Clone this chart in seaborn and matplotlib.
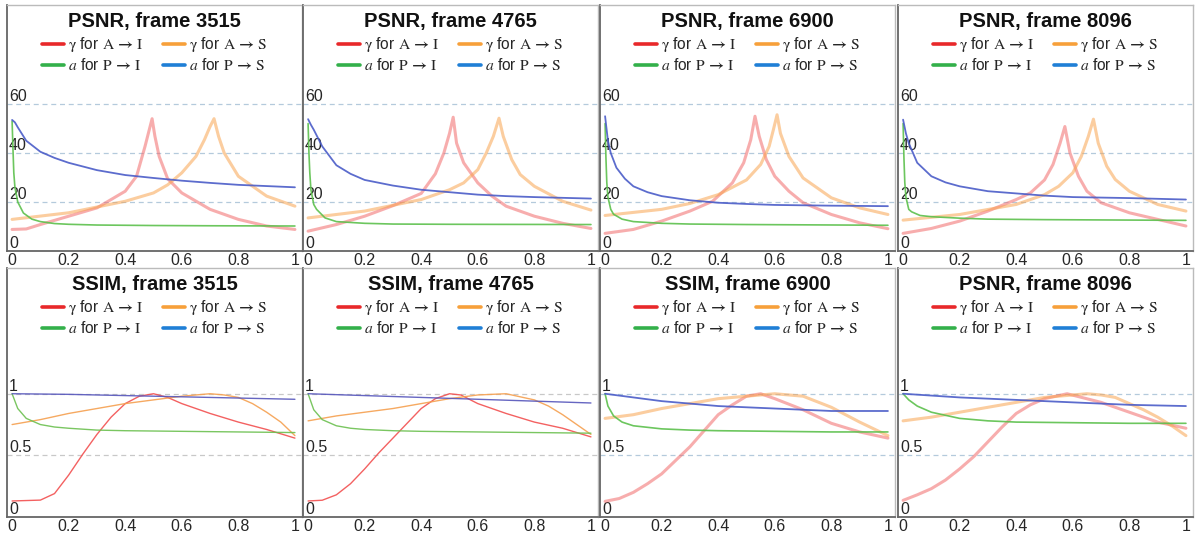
import pandas as pd
import seaborn as sns
import matplotlib.pyplot as plt
from matplotlib.lines import Line2D

# ---- PSNR, frame 3515 ----
p3515_red_x = [0, 0.05, 0.1, 0.2, 0.3, 0.4, 0.44, 0.47, 0.485, 0.495, 0.505, 0.52, 0.55, 0.6, 0.7, 0.8, 0.9, 1.0]
p3515_red_y = [8.8, 9.0, 10.8, 14.2, 17.6, 24.4, 30.5, 42.7, 49.5, 54.0, 46.8, 38.6, 29.5, 23.7, 17.0, 12.9, 10.2, 8.8]
p3515_org_x = [0, 0.2, 0.4, 0.5, 0.55, 0.6, 0.65, 0.68, 0.7, 0.714, 0.73, 0.75, 0.8, 0.9, 1.0]
p3515_org_y = [12.9, 15.6, 20.3, 23.7, 27.0, 31.9, 38.6, 45.4, 50.8, 54.0, 46.8, 40.0, 30.5, 22.4, 18.3]
p3515_grn_x = [0, 0.003, 0.006, 0.01, 0.02, 0.04, 0.07, 0.1, 0.15, 0.2, 0.3, 0.5, 0.7, 1.0]
p3515_grn_y = [53, 42, 32, 26, 20, 15.5, 13, 12, 11.2, 10.9, 10.6, 10.4, 10.3, 10.2]
p3515_blu_x = [0, 0.01, 0.02, 0.05, 0.1, 0.15, 0.2, 0.3, 0.4, 0.5, 0.6, 0.7, 0.8, 0.9, 1.0]
p3515_blu_y = [53.5, 52.5, 50.5, 45, 40.5, 38, 36, 33, 31, 29.8, 28.7, 27.8, 27, 26.5, 26]

# ---- PSNR, frame 4765 ----
p4765_red_x = [0, 0.1, 0.2, 0.3, 0.4, 0.45, 0.48, 0.5, 0.513, 0.525, 0.55, 0.6, 0.65, 0.7, 0.8, 0.9, 1.0]
p4765_red_y = [8.1, 10.8, 14.2, 18.5, 23.5, 31.5, 40, 48, 54.6, 44, 36, 27.8, 22.4, 18.3, 14.2, 11.3, 9.2]
p4765_org_x = [0, 0.2, 0.4, 0.5, 0.55, 0.6, 0.63, 0.655, 0.675, 0.69, 0.72, 0.75, 0.8, 0.9, 1.0]
p4765_org_y = [13.5, 16.3, 21, 25, 27.8, 33.2, 40, 46.8, 54.2, 46.8, 37.3, 31.2, 26.4, 20.3, 16.7]
p4765_grn_x = [0, 0.003, 0.006, 0.01, 0.02, 0.03, 0.06, 0.1, 0.2, 0.3, 0.5, 1.0]
p4765_grn_y = [52, 40, 32, 25, 19, 17, 13.5, 12, 11.3, 11, 10.9, 10.8]
p4765_blu_x = [0, 0.01, 0.02, 0.05, 0.1, 0.15, 0.2, 0.3, 0.4, 0.5, 0.6, 0.7, 0.8, 0.9, 1.0]
p4765_blu_y = [53.8, 51.5, 49.5, 42.7, 35, 31.5, 29, 26.7, 25, 24, 23, 22.4, 22, 21.7, 21.4]

# ---- PSNR, frame 6900 ----
p6900_red_x = [0, 0.1, 0.2, 0.3, 0.38, 0.45, 0.49, 0.515, 0.53, 0.545, 0.57, 0.6, 0.65, 0.7, 0.8, 0.9, 1.0]
p6900_red_y = [7.2, 8.8, 12.2, 16.3, 20.3, 27.8, 36, 45.4, 55, 46.8, 37.3, 30.5, 24.4, 19.7, 14.9, 11.5, 9.1]
p6900_org_x = [0, 0.2, 0.3, 0.4, 0.5, 0.55, 0.58, 0.595, 0.608, 0.62, 0.65, 0.7, 0.8, 0.9, 1.0]
p6900_org_y = [14.5, 17, 19.4, 23, 29, 35.3, 42.7, 49.5, 55.6, 48, 38.6, 29.8, 21.7, 17.6, 14.9]
p6900_grn_x = [0, 0.003, 0.006, 0.01, 0.02, 0.03, 0.06, 0.1, 0.2, 0.3, 0.5, 1.0]
p6900_grn_y = [52, 38, 28, 22, 17, 15, 13, 12, 11.3, 11, 10.8, 10.5]
p6900_blu_x = [0, 0.005, 0.01, 0.02, 0.04, 0.07, 0.1, 0.15, 0.2, 0.3, 0.4, 0.5, 0.6, 0.8, 1.0]
p6900_blu_y = [55, 50, 45, 40, 34, 29.5, 26.4, 24, 22.4, 20.7, 19.7, 19.2, 18.8, 18.5, 18.3]

# ---- PSNR, frame 8096 ----
p8096_red_x = [0, 0.1, 0.2, 0.3, 0.4, 0.45, 0.5, 0.53, 0.555, 0.572, 0.59, 0.62, 0.65, 0.7, 0.8, 0.9, 1.0]
p8096_red_y = [7.2, 9.2, 12.2, 16.3, 21, 23.7, 29, 35.3, 44, 50.8, 40, 30.5, 24.4, 19.7, 15.6, 12.9, 10.2]
p8096_org_x = [0, 0.2, 0.4, 0.5, 0.55, 0.6, 0.63, 0.655, 0.673, 0.69, 0.72, 0.75, 0.8, 0.9, 1.0]
p8096_org_y = [12.6, 14.9, 19, 23, 26.4, 31.9, 38.6, 46.8, 53.8, 44, 34.6, 29.2, 24.4, 19, 16.3]
p8096_grn_x = [0, 0.003, 0.006, 0.01, 0.02, 0.03, 0.06, 0.1, 0.2, 0.3, 0.5, 1.0]
p8096_grn_y = [52, 38, 28, 22, 17, 16, 14.5, 14, 13.4, 13, 12.8, 12.5]
p8096_blu_x = [0, 0.01, 0.02, 0.05, 0.1, 0.15, 0.2, 0.3, 0.4, 0.5, 0.6, 0.8, 1.0]
p8096_blu_y = [53.6, 48, 44, 36, 30.5, 28, 26.4, 24.4, 23.5, 22.6, 22, 21.6, 21]

# ---- SSIM, frame 3515 ----
s3515_red_x = [0, 0.1, 0.15, 0.2, 0.25, 0.3, 0.35, 0.4, 0.45, 0.5, 0.55, 0.6, 0.7, 0.8, 0.9, 1.0]
s3515_red_y = [0.13, 0.137, 0.19, 0.34, 0.51, 0.67, 0.81, 0.92, 0.98, 1.0, 0.97, 0.92, 0.84, 0.77, 0.71, 0.64]
s3515_org_x = [0, 0.1, 0.2, 0.3, 0.4, 0.5, 0.6, 0.7, 0.75, 0.8, 0.85, 0.9, 0.95, 1.0]
s3515_org_y = [0.75, 0.79, 0.84, 0.88, 0.92, 0.95, 0.98, 1.0, 0.99, 0.97, 0.92, 0.85, 0.77, 0.66]
s3515_grn_x = [0, 0.02, 0.05, 0.1, 0.15, 0.2, 0.3, 0.4, 0.6, 0.8, 1.0]
s3515_grn_y = [1.0, 0.88, 0.8, 0.75, 0.73, 0.72, 0.705, 0.70, 0.695, 0.69, 0.685]
s3515_blu_x = [0, 0.2, 0.4, 0.6, 0.8, 1.0]
s3515_blu_y = [1.0, 0.995, 0.985, 0.975, 0.965, 0.955]

# ---- SSIM, frame 4765 ----
s4765_red_x = [0, 0.05, 0.1, 0.15, 0.2, 0.25, 0.3, 0.35, 0.4, 0.45, 0.5, 0.54, 0.6, 0.7, 0.8, 0.9, 1.0]
s4765_red_y = [0.13, 0.136, 0.18, 0.27, 0.39, 0.52, 0.64, 0.76, 0.88, 0.96, 1.0, 0.99, 0.92, 0.84, 0.77, 0.72, 0.65]
s4765_org_x = [0, 0.1, 0.2, 0.3, 0.4, 0.5, 0.6, 0.7, 0.8, 0.85, 0.9, 0.95, 1.0]
s4765_org_y = [0.78, 0.82, 0.85, 0.88, 0.92, 0.96, 0.99, 1.0, 0.95, 0.90, 0.83, 0.75, 0.67]
s4765_grn_x = [0, 0.02, 0.05, 0.1, 0.15, 0.2, 0.3, 0.4, 0.6, 0.8, 1.0]
s4765_grn_y = [1.0, 0.87, 0.79, 0.74, 0.72, 0.71, 0.70, 0.695, 0.69, 0.685, 0.68]
s4765_blu_x = [0, 0.2, 0.4, 0.6, 0.8, 1.0]
s4765_blu_y = [1.0, 0.985, 0.97, 0.955, 0.94, 0.925]

# ---- SSIM, frame 6900 ----
s6900_red_x = [0, 0.05, 0.1, 0.15, 0.2, 0.25, 0.3, 0.35, 0.4, 0.45, 0.5, 0.55, 0.6, 0.7, 0.8, 0.9, 1.0]
s6900_red_y = [0.127, 0.15, 0.2, 0.27, 0.35, 0.46, 0.57, 0.70, 0.83, 0.91, 0.98, 1.0, 0.96, 0.87, 0.76, 0.69, 0.64]
s6900_org_x = [0, 0.1, 0.2, 0.3, 0.4, 0.5, 0.6, 0.7, 0.8, 0.9, 1.0]
s6900_org_y = [0.80, 0.83, 0.88, 0.92, 0.96, 0.98, 1.0, 0.98, 0.89, 0.77, 0.66]
s6900_grn_x = [0, 0.01, 0.03, 0.06, 0.1, 0.2, 0.3, 0.4, 0.6, 0.8, 1.0]
s6900_grn_y = [1.0, 0.9, 0.82, 0.77, 0.74, 0.715, 0.705, 0.70, 0.695, 0.69, 0.69]
s6900_blu_x = [0, 0.1, 0.2, 0.3, 0.4, 0.5, 0.6, 0.7, 0.8, 1.0]
s6900_blu_y = [1.0, 0.97, 0.94, 0.92, 0.90, 0.89, 0.88, 0.87, 0.86, 0.86]

# ---- bottom-right panel (titled "PSNR, frame 8096" in the source) ----
s8096_red_x = [0, 0.05, 0.1, 0.15, 0.2, 0.25, 0.3, 0.35, 0.4, 0.45, 0.5, 0.58, 0.7, 0.8, 0.9, 1.0]
s8096_red_y = [0.135, 0.18, 0.23, 0.30, 0.39, 0.49, 0.61, 0.73, 0.84, 0.91, 0.96, 1.0, 0.93, 0.85, 0.77, 0.72]
s8096_org_x = [0, 0.1, 0.2, 0.3, 0.4, 0.5, 0.6, 0.65, 0.7, 0.75, 0.8, 0.85, 0.9, 0.95, 1.0]
s8096_org_y = [0.78, 0.81, 0.85, 0.89, 0.93, 0.97, 0.99, 1.0, 0.99, 0.97, 0.92, 0.87, 0.81, 0.74, 0.66]
s8096_grn_x = [0, 0.02, 0.05, 0.1, 0.2, 0.3, 0.4, 0.6, 0.8, 1.0]
s8096_grn_y = [1.0, 0.95, 0.90, 0.85, 0.80, 0.78, 0.77, 0.765, 0.76, 0.76]
s8096_blu_x = [0, 0.2, 0.4, 0.6, 0.8, 1.0]
s8096_blu_y = [1.0, 0.97, 0.95, 0.93, 0.91, 0.90]

titles = ["PSNR, frame 3515", "PSNR, frame 4765", "PSNR, frame 6900", "PSNR, frame 8096",
          "SSIM, frame 3515", "SSIM, frame 4765", "SSIM, frame 6900", "PSNR, frame 8096"]
series_labels = [r"$\mathrm{\gamma}$ for $\mathrm{A}\,\mathbf{\rightarrow}\,\mathrm{I}$",
                 r"$\mathrm{\gamma}$ for $\mathrm{A}\,\mathbf{\rightarrow}\,\mathrm{S}$",
                 r"$a$ for $\mathrm{P}\,\mathbf{\rightarrow}\,\mathrm{I}$",
                 r"$a$ for $\mathrm{P}\,\mathbf{\rightarrow}\,\mathrm{S}$"]
psnr_ticks = [0, 20, 40, 60]
ssim_ticks = [0, 0.5, 1]
x_ticks = [0, 0.2, 0.4, 0.6, 0.8, 1]

panels = [
    [(p3515_red_x, p3515_red_y), (p3515_org_x, p3515_org_y), (p3515_grn_x, p3515_grn_y), (p3515_blu_x, p3515_blu_y)],
    [(p4765_red_x, p4765_red_y), (p4765_org_x, p4765_org_y), (p4765_grn_x, p4765_grn_y), (p4765_blu_x, p4765_blu_y)],
    [(p6900_red_x, p6900_red_y), (p6900_org_x, p6900_org_y), (p6900_grn_x, p6900_grn_y), (p6900_blu_x, p6900_blu_y)],
    [(p8096_red_x, p8096_red_y), (p8096_org_x, p8096_org_y), (p8096_grn_x, p8096_grn_y), (p8096_blu_x, p8096_blu_y)],
    [(s3515_red_x, s3515_red_y), (s3515_org_x, s3515_org_y), (s3515_grn_x, s3515_grn_y), (s3515_blu_x, s3515_blu_y)],
    [(s4765_red_x, s4765_red_y), (s4765_org_x, s4765_org_y), (s4765_grn_x, s4765_grn_y), (s4765_blu_x, s4765_blu_y)],
    [(s6900_red_x, s6900_red_y), (s6900_org_x, s6900_org_y), (s6900_grn_x, s6900_grn_y), (s6900_blu_x, s6900_blu_y)],
    [(s8096_red_x, s8096_red_y), (s8096_org_x, s8096_org_y), (s8096_grn_x, s8096_grn_y), (s8096_blu_x, s8096_blu_y)],
]

sns.set_theme(style="white")
plt.rcParams["font.family"] = ["Liberation Sans", "DejaVu Sans"]
plt.rcParams["mathtext.fontset"] = "stix"

legend_colors = ["#e8282a", "#f7a03a", "#33b04a", "#1f7fd6"]
# faded thick look (most panels) vs thin crisp look (SSIM 3515 / 4765)
faded_style = [dict(color="#f26b6b", lw=2.2, alpha=0.55), dict(color="#f9a450", lw=2.2, alpha=0.55),
               dict(color="#5cc04c", lw=1.2, alpha=0.9), dict(color="#4a5cc8", lw=1.3, alpha=0.9)]
thin_style = [dict(color="#f25050", lw=1.0, alpha=0.9), dict(color="#f5a050", lw=1.0, alpha=0.9),
              dict(color="#6cc050", lw=1.0, alpha=0.9), dict(color="#5555bb", lw=1.0, alpha=0.9)]

W, H = 1196, 533
fig = plt.figure(figsize=(W / 100, H / 100), dpi=100)
lefts = [7, 303, 600, 898]
width = 295

# legend fills column by column: put red, green in col 1 and orange, blue in col 2
leg_order = [0, 2, 1, 3]

for i, series in enumerate(panels):
    row, col = divmod(i, 4)
    if row == 0:
        top, bottom = 5, 251
    else:
        top, bottom = 268, 517
    ax = fig.add_axes([lefts[col] / W, 1 - bottom / H, width / W, (bottom - top) / H])
    styles = thin_style if i in (4, 5) else faded_style
    for (xs, ys), st in zip(series, styles):
        df = pd.DataFrame({"x": xs, "y": ys})
        sns.lineplot(data=df, x="x", y="y", ax=ax, estimator=None, sort=True,
                     color=st["color"], linewidth=st["lw"], alpha=st["alpha"])
    ax.set_xlim(-0.018, 1.025)
    if row == 0:
        ax.set_ylim(0, 100.4)
        ax.set_yticks(psnr_ticks)
        ax.set_yticklabels([str(t) for t in psnr_ticks])
    else:
        ax.set_ylim(0, 2.02)
        ax.set_yticks(ssim_ticks)
        ax.set_yticklabels(["0", "0.5", "1"])
    ax.set_xticks(x_ticks)
    ax.set_xticklabels(["0", "0.2", "0.4", "0.6", "0.8", "1"])
    ax.set_xlabel("")
    ax.set_ylabel("")
    grid_col = "#c8c8c8" if i in (4, 5) else "#b4cadc"
    ax.grid(axis="y", linestyle=(0, (4, 3)), color=grid_col, linewidth=0.9)
    ax.grid(axis="x", visible=False)
    ax.tick_params(axis="x", direction="in", length=3, color="#a8c4dc", labelsize=11.5, pad=1.5)
    ax.tick_params(axis="y", length=0, labelsize=11.5, pad=-1.5)
    for lbl in ax.get_yticklabels():
        lbl.set_horizontalalignment("left")
        lbl.set_verticalalignment("bottom")
    for side in ["left", "bottom"]:
        ax.spines[side].set_color("#666666")
        ax.spines[side].set_linewidth(1.3)
    for side in ["top", "right"]:
        ax.spines[side].set_color("#bbbbbb")
        ax.spines[side].set_linewidth(1.0)

    ax.text(0.5, 0.972, titles[i], transform=ax.transAxes, ha="center", va="top",
            fontsize=14.5, fontweight="bold", color="#111111")
    handles = [Line2D([], [], color=legend_colors[k], lw=2.6) for k in leg_order]
    labels = [series_labels[k] for k in leg_order]
    ax.legend(handles, labels, loc="upper center", bbox_to_anchor=(0.5, 0.878),
              ncol=2, frameon=False, fontsize=11.2, handlelength=1.4, handletextpad=0.25,
              columnspacing=1.3, labelspacing=0.2, borderaxespad=0, borderpad=0)

fig.savefig("out.png", dpi=100)
